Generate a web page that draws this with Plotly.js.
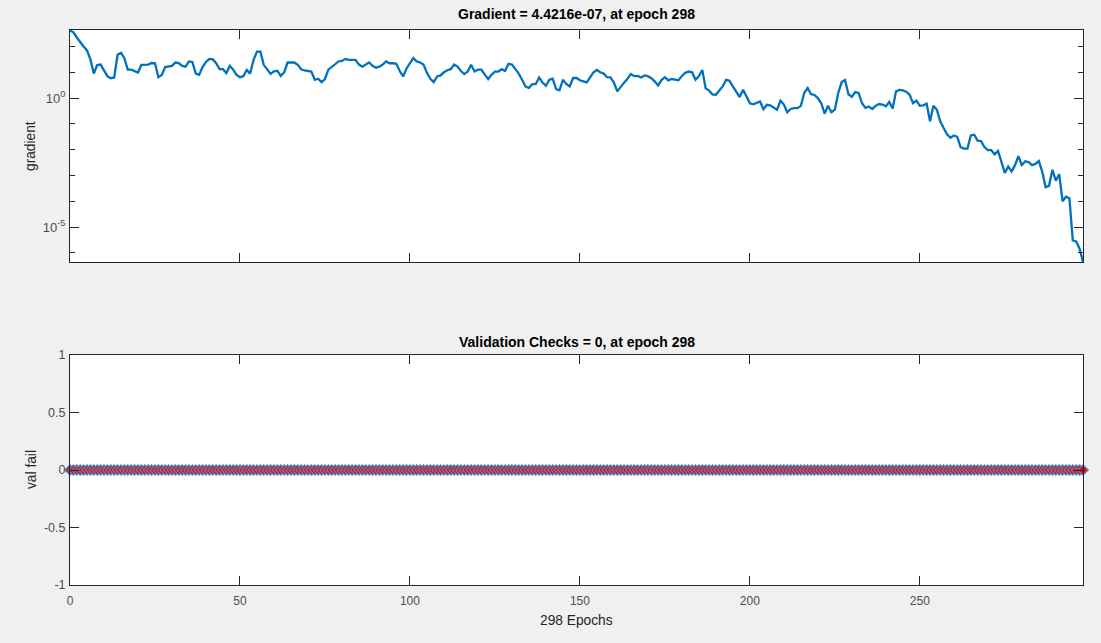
<!DOCTYPE html>
<html>
<head>
<meta charset="utf-8">
<script src="https://cdn.plot.ly/plotly-3.0.1.min.js"></script>
<style>html,body{margin:0;padding:0;background:#F0F0F0;}#chart{width:1101px;height:643px;}</style>
</head>
<body>
<div id="chart"></div>
<script>
// log10 of the gradient at each epoch (0..298)
const gradientLog10 = [
 2.62,2.55,2.35,2.15,2.0,1.85,1.5,0.95,1.28,1.30,
 1.05,0.85,0.77,0.80,1.68,1.76,1.55,1.10,1.10,1.05,
 0.99,1.29,1.30,1.30,1.36,1.35,0.81,0.90,1.20,1.22,
 1.25,1.38,1.36,1.25,1.22,1.42,1.40,0.95,0.90,1.20,
 1.40,1.52,1.50,1.35,1.12,1.12,0.97,1.25,1.10,0.90,
 0.81,0.85,1.09,0.95,1.48,1.80,1.80,1.29,1.12,0.94,
 1.04,1.06,0.86,1.00,1.38,1.38,1.38,1.29,1.12,1.07,
 1.05,1.03,0.71,0.75,0.62,0.74,1.10,1.20,1.30,1.42,
 1.44,1.52,1.48,1.48,1.48,1.30,1.22,1.30,1.38,1.25,
 1.18,1.22,1.30,1.42,1.35,1.35,1.33,1.05,0.84,1.15,
 1.35,1.55,1.42,1.38,1.30,0.98,0.75,0.62,0.84,0.88,
 1.00,1.08,1.12,1.30,1.22,1.05,0.93,1.03,1.29,1.03,
 1.10,1.10,0.92,0.74,0.90,1.03,1.03,1.12,1.05,1.33,
 1.30,1.12,0.95,0.71,0.45,0.40,0.54,0.54,0.80,0.60,
 0.48,0.71,0.75,0.35,0.30,0.71,0.55,0.45,0.78,0.78,
 0.69,0.65,0.61,0.80,1.00,1.09,1.00,0.95,0.81,0.80,
 0.60,0.26,0.45,0.60,0.75,0.93,0.85,0.86,0.80,0.88,
 0.85,0.77,0.65,0.49,0.70,0.81,0.69,0.74,0.72,0.69,
 0.86,0.98,1.03,1.00,0.71,0.85,1.09,0.38,0.29,0.14,
 0.13,0.30,0.45,0.71,0.67,0.45,0.25,0.04,0.32,0.05,
 -0.20,-0.24,-0.20,-0.13,-0.43,-0.26,-0.28,-0.35,-0.45,-0.10,
 -0.25,-0.55,-0.42,-0.39,-0.39,-0.30,0.20,0.39,0.15,0.12,
 0.0,-0.20,-0.60,-0.30,-0.55,-0.45,0.20,0.62,0.70,0.15,
 0.05,0.23,0.20,-0.20,-0.38,-0.33,-0.42,-0.30,-0.23,-0.25,
 -0.32,-0.15,-0.40,0.26,0.32,0.30,0.25,0.13,-0.20,-0.10,
 -0.30,-0.28,-0.22,-0.90,-0.30,-0.45,-0.90,-1.16,-1.40,-1.54,
 -1.45,-1.50,-1.90,-1.96,-1.96,-1.45,-1.42,-1.65,-1.67,-1.90,
 -2.02,-2.02,-2.18,-2.05,-2.44,-2.90,-2.65,-2.85,-2.60,-2.25,
 -2.60,-2.45,-2.48,-2.60,-2.55,-2.44,-2.85,-3.45,-3.40,-2.78,
 -3.20,-2.95,-4.00,-3.82,-3.88,-5.52,-5.56,-5.84,-6.3544
];

// validation failures at each epoch (0..298)
const valFail = [
 0,0,0,0,0,0,0,0,0,0,0,0,0,0,0,0,0,0,0,0,0,0,0,0,0,0,0,0,0,0,
 0,0,0,0,0,0,0,0,0,0,0,0,0,0,0,0,0,0,0,0,0,0,0,0,0,0,0,0,0,0,
 0,0,0,0,0,0,0,0,0,0,0,0,0,0,0,0,0,0,0,0,0,0,0,0,0,0,0,0,0,0,
 0,0,0,0,0,0,0,0,0,0,0,0,0,0,0,0,0,0,0,0,0,0,0,0,0,0,0,0,0,0,
 0,0,0,0,0,0,0,0,0,0,0,0,0,0,0,0,0,0,0,0,0,0,0,0,0,0,0,0,0,0,
 0,0,0,0,0,0,0,0,0,0,0,0,0,0,0,0,0,0,0,0,0,0,0,0,0,0,0,0,0,0,
 0,0,0,0,0,0,0,0,0,0,0,0,0,0,0,0,0,0,0,0,0,0,0,0,0,0,0,0,0,0,
 0,0,0,0,0,0,0,0,0,0,0,0,0,0,0,0,0,0,0,0,0,0,0,0,0,0,0,0,0,0,
 0,0,0,0,0,0,0,0,0,0,0,0,0,0,0,0,0,0,0,0,0,0,0,0,0,0,0,0,0,0,
 0,0,0,0,0,0,0,0,0,0,0,0,0,0,0,0,0,0,0,0,0,0,0,0,0,0,0,0,0
];

const epochs = gradientLog10.map((_, i) => i);
const gradient = gradientLog10.map(v => Math.pow(10, v));

const xTickVals = [0, 50, 100, 150, 200, 250];
const xTickText = ['0', '50', '100', '150', '200', '250'];
const gradTickVals = [1e-5, 1];
const gradTickText = ['10<sup>-5</sup>', '10<sup>0</sup>'];
const gradMinorVals = [1e-6, 1e-4, 1e-3, 1e-2, 1e-1, 10, 100];
const valTickVals = [-1, -0.5, 0, 0.5, 1];
const valTickText = ['-1', '-0.5', '0', '0.5', '1'];

const titleTop = 'Gradient = 4.4216e-07, at epoch 298';
const titleBottom = 'Validation Checks = 0, at epoch 298';

const FONT = 'Liberation Sans, Arial, Helvetica, sans-serif';
const AX = '#262626';
const TICKTXT = '#4D4D4D';
const BLUE = '#0072BD';

const xDomain = [70 / 1101, 1083 / 1101];
const topDomain = [(643 - 262) / 643, (643 - 30) / 643];
const botDomain = [(643 - 585) / 643, (643 - 355) / 643];

const axisCommon = {
  showline: true, linecolor: AX, linewidth: 1, mirror: 'ticks',
  ticks: 'inside', ticklen: 9, tickcolor: AX, tickwidth: 1,
  showgrid: false, zeroline: false
};
const xTickFont = {family: FONT, size: 12, color: TICKTXT};
const yTickFont = {family: FONT, size: 12.5, color: TICKTXT};

const traces = [
  {
    x: epochs, y: gradient, type: 'scatter', mode: 'lines',
    line: {color: BLUE, width: 2.3},
    xaxis: 'x', yaxis: 'y', hoverinfo: 'x+y'
  },
  {
    x: epochs, y: valFail, type: 'scatter', mode: 'lines+markers',
    line: {color: BLUE, width: 2},
    marker: {symbol: 'diamond', size: 8, color: '#FF0000', line: {color: '#3D8FD1', width: 1.2}},
    cliponaxis: false,
    xaxis: 'x2', yaxis: 'y2'
  }
];

const layout = {
  width: 1101, height: 643,
  paper_bgcolor: '#F0F0F0', plot_bgcolor: '#FFFFFF',
  margin: {l: 0, r: 0, t: 0, b: 0},
  showlegend: false,
  font: {family: FONT, color: AX},
  xaxis: Object.assign({}, axisCommon, {
    domain: xDomain, anchor: 'y', range: [0, 298], tickfont: xTickFont,
    tickmode: 'array', tickvals: xTickVals, ticktext: xTickText, showticklabels: false
  }),
  yaxis: Object.assign({}, axisCommon, {
    domain: topDomain, anchor: 'x', type: 'log', range: [-6.3544, 2.64],
    tickfont: {family: FONT, size: 13, color: TICKTXT}, ticklabelstandoff: 1,
    tickmode: 'array', tickvals: gradTickVals, ticktext: gradTickText,
    minor: {tickmode: 'array', tickvals: gradMinorVals, ticks: 'inside', ticklen: 5, tickcolor: AX, showgrid: false}
  }),
  xaxis2: Object.assign({}, axisCommon, {
    domain: xDomain, anchor: 'y2', range: [0, 298], tickfont: xTickFont, ticklabelstandoff: 5,
    tickmode: 'array', tickvals: xTickVals, ticktext: xTickText
  }),
  yaxis2: Object.assign({}, axisCommon, {
    domain: botDomain, anchor: 'x2', range: [-1, 1], tickfont: yTickFont, ticklabelstandoff: 1,
    tickmode: 'array', tickvals: valTickVals, ticktext: valTickText
  }),
  annotations: [
    {text: '<b>' + titleTop + '</b>', xref: 'paper', yref: 'paper', x: 576.5 / 1101, y: (643 - 14) / 643,
     showarrow: false, xanchor: 'center', yanchor: 'middle', font: {family: FONT, size: 14, color: '#000'}},
    {text: '<b>' + titleBottom + '</b>', xref: 'paper', yref: 'paper', x: 576.5 / 1101, y: (643 - 342) / 643,
     showarrow: false, xanchor: 'center', yanchor: 'middle', font: {family: FONT, size: 14, color: '#000'}},
    {text: '298 Epochs', xref: 'paper', yref: 'paper', x: 576.5 / 1101, y: (643 - 620) / 643,
     showarrow: false, xanchor: 'center', yanchor: 'middle', font: {family: FONT, size: 13.75, color: AX}},
    {text: 'gradient', xref: 'paper', yref: 'paper', x: 31 / 1101, y: (643 - 146) / 643, textangle: -90,
     showarrow: false, xanchor: 'center', yanchor: 'middle', font: {family: FONT, size: 13.75, color: AX}},
    {text: 'val fail', xref: 'paper', yref: 'paper', x: 31 / 1101, y: (643 - 470) / 643, textangle: -90,
     showarrow: false, xanchor: 'center', yanchor: 'middle', font: {family: FONT, size: 13.75, color: AX}}
  ]
};

Plotly.newPlot('chart', traces, layout, {displayModeBar: false, staticPlot: true});
</script>
</body>
</html>
